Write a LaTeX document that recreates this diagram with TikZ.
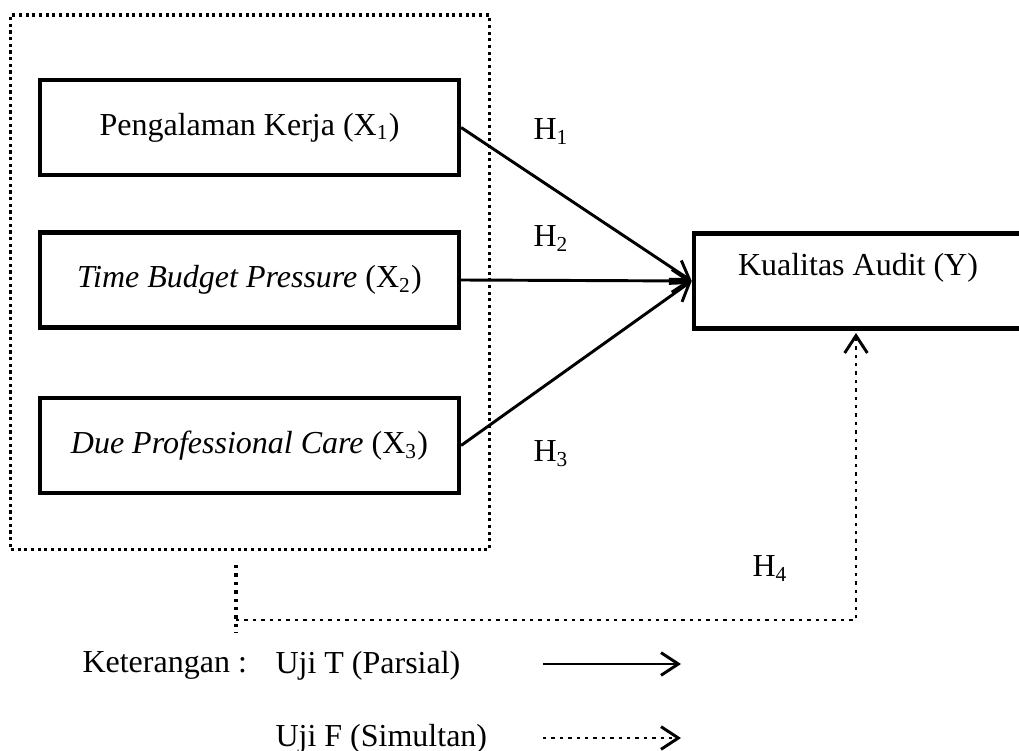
\documentclass[tikz,border=0pt]{standalone}
\usepackage{fontspec}
\setmainfont{Liberation Serif}
\usetikzlibrary{positioning, arrows.meta}

\begin{document}
\begin{tikzpicture}[x=0.375pt, y=-0.375pt,
    var/.style={draw, line width=1.7pt, minimum width=157pt, minimum height=35.6pt, inner sep=0pt, font=\fontsize{12}{14}\selectfont},
    txt/.style={inner sep=0pt, font=\fontsize{12}{14}\selectfont},
    hyp/.style={txt, anchor=base west},
    grp/.style={draw, line width=1.15pt, dash pattern=on 1.15pt off 1.35pt, minimum width=179.3pt, minimum height=200.6pt, inner sep=0pt},
    link/.style={line width=1.1pt, -{Straight Barb[length=6.5pt, width=8.5pt, line width=1.1pt]}},
    dots/.style={line width=1.25pt, dash pattern=on 1.25pt off 1.9pt},
]
\useasboundingbox (0,0) rectangle (1019,751);

\node[grp] (box) at (250,282.5) {};
\node[var] (x1) at (249.5,127.5) {Pengalaman Kerja (X\textsubscript{1})};
\node[var] (x2) at (249.5,280) {\textit{Time Budget Pressure} (X\textsubscript{2})};
\node[var] (x3) at (249.5,445.5) {\textit{Due Professional Care} (X\textsubscript{3})};
\node[var, minimum width=126pt] (y) at (862,281) {};
\node[txt] (ytxt) at (858,268) {Kualitas Audit (Y)};

\node[hyp] (h1) at (533,140) {H\textsubscript{1}};
\node[hyp] (h2) at (533,247) {H\textsubscript{2}};
\node[hyp] (h3) at (533,462) {H\textsubscript{3}};
\node[hyp] (h4) at (752,577) {H\textsubscript{4}};

\draw[link] (x1.east) -- (y.west);
\draw[link] (x2.east) -- (y.west);
\draw[link] (x3.east) -- (y.west);

\coordinate (f1) at (236,565);
\coordinate (f2) at (236,633);
\coordinate (f3) at (236,620);
\coordinate (f4) at (856,333);
\draw[dots] (f1) -- (f2);
\draw[dots, link] (f3) -| (f4);

\node[hyp] (ket) at (82,673) {Keterangan :};
\node[hyp] (ujit) at (275,674) {Uji T (Parsial)};
\node[hyp] (ujif) at (275,747) {Uji F (Simultan)};
\coordinate (t1) at (543,664);
\coordinate (t2) at (681,664);
\coordinate (s1) at (543,738);
\coordinate (s2) at (681,738);
\draw[link] (t1) -- (t2);
\draw[dots, link] (s1) -- (s2);
\end{tikzpicture}
\end{document}
